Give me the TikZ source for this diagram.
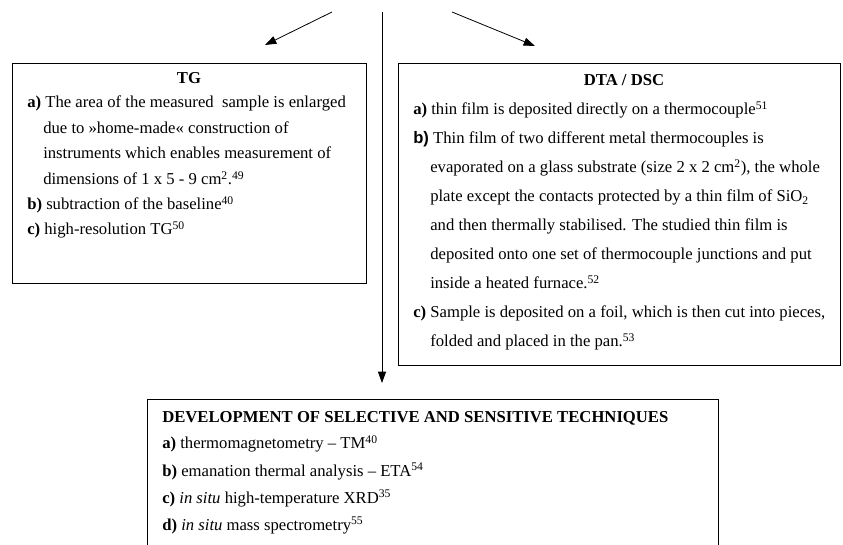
\documentclass[tikz,border=0pt]{standalone}
\usepackage{fontspec}
\setmainfont{Liberation Serif}
\newfontfamily\arialf{Liberation Sans}
\usetikzlibrary{arrows.meta}
\begin{document}
\begin{tikzpicture}[x=0.75pt,y=-0.75pt,
  box/.style={draw, line width=0.9pt, inner sep=0pt, anchor=north west},
  txt/.style={anchor=base west, inner sep=0pt, font=\fontsize{12.5}{15}\selectfont},
  ttl/.style={anchor=base, inner sep=0pt, font=\fontsize{12.5}{15}\selectfont\bfseries},
  arr/.style={line width=0.6pt, -{Triangle[length=8.5pt, width=6pt]}}]
\useasboundingbox (0,0) rectangle (843,545);
\clip (0,0) rectangle (843,545);
% boxes
\node[box, minimum width=265.5pt, minimum height=165pt] (tg) at (12,63) {};
\node[box, minimum width=331.5pt, minimum height=226.5pt] (dta) at (398,63) {};
\node[box, minimum width=428.25pt, minimum height=130pt] (dev) at (147,399) {};
% connectors
\coordinate (s1) at (332,12);
\coordinate (e1) at (265,45);
\coordinate (s2) at (452,12);
\coordinate (e2) at (535,46);
\coordinate (s3) at (382,12);
\coordinate (e3) at (382,383);
\draw[arr] (s1) -- (e1);
\draw[arr] (s2) -- (e2);
\draw[arr] (s3) -- (e3);
% TG box
\node[ttl] (tgt) at (189,84) {TG};
\node[txt] (tga) at (27,108) {\textbf{a)} The area of the measured\ \ sample is enlarged};
\node[txt] (tga2) at (43,134) {due to »home-made« construction of};
\node[txt] (tga3) at (43,159) {instruments which enables measurement of};
\node[txt] (tga4) at (43,185) {dimensions of 1 x 5 - 9 cm\textsuperscript{2}.\textsuperscript{49}};
\node[txt] (tgb) at (27,210) {\textbf{b)} subtraction of the baseline\textsuperscript{40}};
\node[txt] (tgc) at (27,235) {\textbf{c)} high-resolution TG\textsuperscript{50}};
% DTA box
\node[ttl] (dtat) at (624,86) {DTA / DSC};
\node[txt] (dtaa) at (413,115) {\textbf{a)} thin film is deposited directly on a thermocouple\textsuperscript{51}};
\node[txt] (dtab) at (413,144) {{\arialf\bfseries b)} Thin film of two different metal thermocouples is};
\node[txt] (dtab2) at (430,173) {evaporated on a glass substrate (size 2 x 2 cm\textsuperscript{2}), the whole};
\node[txt] (dtab3) at (430,202) {plate except the contacts protected by a thin film of SiO\textsubscript{2}};
\node[txt] (dtab4) at (430,231) {and then thermally stabilised. The studied thin film is};
\node[txt] (dtab5) at (430,260) {deposited onto one set of thermocouple junctions and put};
\node[txt] (dtab6) at (430,289) {inside a heated furnace.\textsuperscript{52}};
\node[txt] (dtac) at (413,318) {\textbf{c)} Sample is deposited on a foil, which is then cut into pieces,};
\node[txt] (dtac2) at (430,347) {folded and placed in the pan.\textsuperscript{53}};
% development box
\node[txt, font=\fontsize{12.5}{15}\selectfont\bfseries] (devt) at (162,422) {DEVELOPMENT OF SELECTIVE AND SENSITIVE TECHNIQUES};
\node[txt] (deva) at (162,449) {\textbf{a)} thermomagnetometry – TM\textsuperscript{40}};
\node[txt] (devb) at (162,476) {\textbf{b)} emanation thermal analysis – ETA\textsuperscript{54}};
\node[txt] (devc) at (162,503) {\textbf{c)} \textit{in situ} high-temperature XRD\textsuperscript{35}};
\node[txt] (devd) at (162,530) {\textbf{d)} \textit{in situ} mass spectrometry\textsuperscript{55}};
\end{tikzpicture}
\end{document}
